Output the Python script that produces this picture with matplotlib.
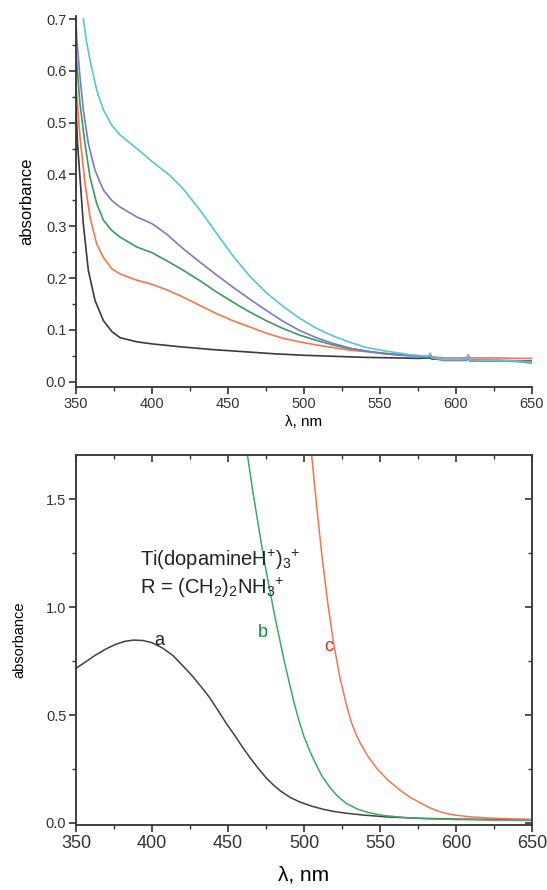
import matplotlib
matplotlib.use('Agg')
import matplotlib.pyplot as plt
from matplotlib.ticker import MultipleLocator, FormatStrFormatter

plt.rcParams['font.family'] = ['Liberation Sans', 'DejaVu Sans']
plt.rcParams['mathtext.default'] = 'regular'

# top panel: absorbance spectra, five traces
wl_black = [350, 351, 352.6, 354.8, 358.1, 362.5, 368, 373.5, 379, 390, 400, 420,
            440, 460, 480, 500, 520, 540, 560, 575, 583, 584, 590, 600, 608, 609,
            625, 650]
ab_black = [0.53, 0.46, 0.395, 0.305, 0.215, 0.157, 0.118, 0.097, 0.085, 0.077, 0.073,
            0.067, 0.062, 0.058, 0.054, 0.051, 0.049, 0.047, 0.046, 0.045, 0.046, 0.044,
            0.043, 0.042, 0.044, 0.042, 0.041, 0.040]

wl_orange = [350, 352.6, 355.9, 359.2, 363.6, 368, 373.5, 379, 390, 400, 410, 420, 431,
             442, 453, 464, 475, 486, 497, 508, 519, 530, 541, 552, 563, 575, 582,
             583, 584, 592, 600, 607, 608, 609, 625, 640, 650]
ab_orange = [0.573, 0.473, 0.383, 0.318, 0.266, 0.24, 0.218, 0.208, 0.196, 0.188, 0.177,
             0.164, 0.148, 0.132, 0.118, 0.106, 0.094, 0.084, 0.077, 0.071, 0.066, 0.061,
             0.058, 0.055, 0.052, 0.050, 0.049, 0.054, 0.048, 0.046, 0.046, 0.046,
             0.052, 0.046, 0.046, 0.045, 0.045]

wl_green = [350, 352.6, 355.9, 359.2, 363.6, 368, 373.5, 379, 390, 400, 410, 420, 431,
            442, 453, 464, 475, 486, 497, 508, 519, 530, 541, 552, 563, 575, 582,
            583, 584, 592, 600, 607, 608, 609, 625, 640, 650]
ab_green = [0.634, 0.537, 0.46, 0.395, 0.344, 0.312, 0.292, 0.279, 0.26, 0.249, 0.233,
            0.216, 0.196, 0.174, 0.154, 0.135, 0.118, 0.103, 0.090, 0.080, 0.071,
            0.064, 0.059, 0.055, 0.052, 0.049, 0.048, 0.052, 0.046, 0.042, 0.042,
            0.042, 0.050, 0.041, 0.041, 0.040, 0.039]

wl_purple = [350, 350.4, 352.6, 354.8, 358.1, 362.5, 368, 373.5, 379, 390, 400, 410,
             420, 431, 442, 453, 464, 475, 486, 497, 508, 519, 530, 541, 552, 563,
             575, 582, 583, 584, 592, 600, 607, 608, 609, 625, 640, 650]
ab_purple = [0.70, 0.666, 0.589, 0.525, 0.46, 0.408, 0.37, 0.35, 0.337, 0.318, 0.305,
             0.284, 0.258, 0.232, 0.207, 0.183, 0.160, 0.138, 0.117, 0.099, 0.085,
             0.074, 0.065, 0.059, 0.054, 0.051, 0.049, 0.048, 0.051, 0.046, 0.041,
             0.041, 0.041, 0.049, 0.040, 0.040, 0.039, 0.036]

wl_cyan = [354.8, 357, 359.2, 363.6, 368, 373.5, 379, 390, 400.9, 411.8, 420.6, 431.6,
           442.6, 453.5, 464.5, 475.5, 486.4, 497.4, 508.3, 519.3, 530.3, 541.2,
           552.2, 563.2, 570, 578, 582, 583, 584, 592, 600, 607, 608, 609, 625, 640,
           650]
ab_cyan = [0.70, 0.655, 0.621, 0.563, 0.525, 0.495, 0.476, 0.45, 0.423, 0.398, 0.372,
           0.331, 0.286, 0.242, 0.203, 0.171, 0.145, 0.122, 0.103, 0.088, 0.076, 0.066,
           0.06, 0.055, 0.052, 0.050, 0.049, 0.055, 0.047, 0.043, 0.043, 0.043, 0.051,
           0.042, 0.041, 0.040, 0.038]

# bottom panel: traces a, b, c
wl_a = [350, 355, 363, 370, 376, 382, 388, 394, 400, 407, 414, 420, 427, 433, 438,
        444, 449, 454, 459, 464, 470, 475, 480, 485, 491, 497, 505, 513, 520, 528,
        540, 555, 575, 600, 625, 650]
ab_a = [0.716, 0.74, 0.778, 0.807, 0.827, 0.841, 0.847, 0.845, 0.835, 0.81, 0.774,
        0.73, 0.677, 0.625, 0.58, 0.515, 0.46, 0.41, 0.357, 0.307, 0.252, 0.21, 0.175,
        0.146, 0.118, 0.098, 0.078, 0.063, 0.053, 0.045, 0.036, 0.028, 0.022, 0.018,
        0.016, 0.015]

wl_b = [462.8, 466, 469, 472, 475, 478, 481, 484, 487, 490, 493, 496, 500, 504, 508,
        512, 517, 522, 528, 535, 543, 552, 565, 580, 600, 625, 650]
ab_b = [1.704, 1.55, 1.42, 1.29, 1.17, 1.06, 0.95, 0.85, 0.75, 0.66, 0.57, 0.49, 0.40,
        0.33, 0.27, 0.215, 0.165, 0.125, 0.09, 0.065, 0.047, 0.035, 0.026, 0.020,
        0.016, 0.014, 0.013]

wl_c = [505, 508.3, 511.6, 515.4, 519.3, 523.7, 528, 531, 534, 537, 542, 548, 555,
        563, 570, 577.4, 583, 589.5, 595, 600, 610, 625, 637, 650]
ab_c = [1.704, 1.47, 1.25, 1.03, 0.84, 0.67, 0.545, 0.47, 0.415, 0.37, 0.31, 0.252,
        0.20, 0.153, 0.118, 0.09, 0.07, 0.052, 0.042, 0.036, 0.028, 0.022, 0.019, 0.017]

W, H = 547, 890
fig = plt.figure(figsize=(W / 100, H / 100), dpi=100)


def px_axes(left, top, right, bottom):
    return fig.add_axes([left / W, 1 - bottom / H, (right - left) / W, (bottom - top) / H])


# ---- top panel
ax1 = px_axes(76, 16, 532, 387)
ax1.plot(wl_black, ab_black, color='#3a3a3a', lw=1.2)
ax1.plot(wl_orange, ab_orange, color='#f4764f', lw=1.2)
ax1.plot(wl_green, ab_green, color='#3d9a5f', lw=1.2)
ax1.plot(wl_purple, ab_purple, color='#7b7ac7', lw=1.2)
ax1.plot(wl_cyan, ab_cyan, color='#57c5d9', lw=1.2)
ax1.set_xlim(350, 650)
ax1.set_ylim(-0.0102, 0.7058)
for s in ('top', 'right'):
    ax1.spines[s].set_visible(False)
for s in ('left', 'bottom'):
    ax1.spines[s].set_linewidth(1.3)
    ax1.spines[s].set_color('#333333')
ax1.xaxis.set_major_locator(MultipleLocator(50))
ax1.xaxis.set_minor_locator(MultipleLocator(25))
ax1.yaxis.set_major_locator(MultipleLocator(0.1))
ax1.yaxis.set_minor_locator(MultipleLocator(0.05))
ax1.yaxis.set_major_formatter(FormatStrFormatter('%.1f'))
ax1.tick_params(which='major', direction='out', length=5, width=1.2, labelsize=10.5,
                colors='#333333', pad=2)
ax1.tick_params(which='minor', direction='out', length=3, width=1.0, colors='#333333')
ax1.set_xlabel('λ, nm', fontsize=11, labelpad=3)
ax1.set_ylabel('absorbance', fontsize=12, labelpad=8)

# ---- bottom panel
ax2 = px_axes(76, 455, 532, 825)
ax2.plot(wl_a, ab_a, color='#404040', lw=1.1)
ax2.plot(wl_b, ab_b, color='#3ea866', lw=1.1)
ax2.plot(wl_c, ab_c, color='#f47452', lw=1.1)
ax2.set_xlim(350, 650)
ax2.set_ylim(-0.0093, 1.704)
for s in ax2.spines.values():
    s.set_linewidth(1.3)
    s.set_color('#333333')
ax2.xaxis.set_major_locator(MultipleLocator(50))
ax2.xaxis.set_minor_locator(MultipleLocator(25))
ax2.yaxis.set_major_locator(MultipleLocator(0.5))
ax2.yaxis.set_minor_locator(MultipleLocator(0.25))
ax2.yaxis.set_major_formatter(FormatStrFormatter('%.1f'))
ax2.tick_params(axis='x', which='major', direction='out', length=5, width=1.2,
                labelsize=13, colors='#333333', pad=2)
ax2.tick_params(axis='y', which='major', direction='out', length=5, width=1.2,
                labelsize=10.5, colors='#333333', pad=2)
ax2.tick_params(which='minor', direction='out', length=3, width=1.0, colors='#333333')

# inward ticks on the top and right frame
top_ax = ax2.secondary_xaxis('top')
top_ax.xaxis.set_major_locator(MultipleLocator(50))
top_ax.xaxis.set_minor_locator(MultipleLocator(25))
top_ax.tick_params(which='both', direction='in', labeltop=False, colors='#333333')
top_ax.tick_params(which='major', length=5, width=1.2)
top_ax.tick_params(which='minor', length=3, width=1.0)
top_ax.spines['top'].set_visible(False)
right_ax = ax2.secondary_yaxis('right')
right_ax.yaxis.set_major_locator(MultipleLocator(0.5))
right_ax.yaxis.set_minor_locator(MultipleLocator(0.25))
right_ax.tick_params(which='both', direction='in', labelright=False, colors='#333333')
right_ax.tick_params(which='major', length=5, width=1.2)
right_ax.tick_params(which='minor', length=3, width=1.0)
right_ax.spines['right'].set_visible(False)

ax2.set_xlabel('λ, nm', fontsize=15, labelpad=10)
ax2.set_ylabel('absorbance', fontsize=10.5, labelpad=14)

ax2.text(392, 1.218, 'Ti(dopamineH$^{+}$)$_{3}$$^{+}$', fontsize=14.5,
         color='#222222', va='center', ha='left')
ax2.text(392, 1.088, 'R = (CH$_{2}$)$_{2}$NH$_{3}$$^{+}$', fontsize=14.5,
         color='#222222', va='center', ha='left')
ax2.text(404.6, 0.847, 'a', fontsize=13, color='#222222', ha='center', va='center')
ax2.text(473, 0.88, 'b', fontsize=13, color='#1a8a3a', ha='center', va='center')
ax2.text(516.4, 0.815, 'c', fontsize=13, color='#e82a1a', ha='center', va='center')

fig.savefig('out.png', dpi=100)
